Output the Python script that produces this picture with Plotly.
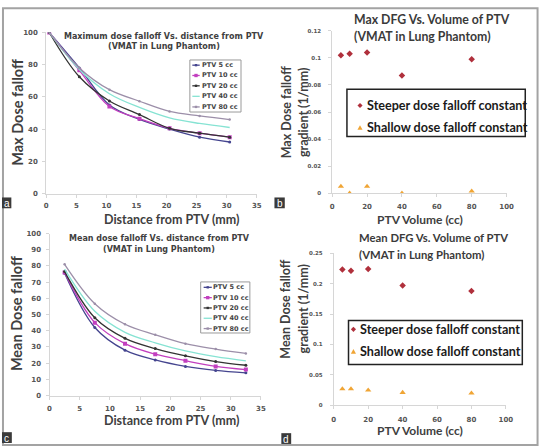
import plotly.graph_objects as go

W, H = 548, 446

# ---------------- data ----------------
ptv_names = ["PTV 5 cc", "PTV 10 cc", "PTV 20 cc", "PTV 40 cc", "PTV 80 cc"]

dist_max = [0.5, 5.5, 10.5, 15.5, 20.5, 25.5, 30.5]
max_ptv5 = [100, 78, 55, 46, 40, 35, 32]
max_ptv10 = [100, 76.5, 54, 46.5, 40.5, 37.5, 35]
max_ptv20 = [100, 72.5, 57.5, 49, 40.5, 37.5, 35]
max_ptv40 = [100, 77, 62, 53.5, 47, 43.5, 41]
max_ptv80 = [100, 78, 64.5, 57.3, 51, 48.2, 45.9]

dist_mean = [2.5, 7.5, 12.5, 17.5, 22.5, 27.5, 32.5]
mean_ptv5 = [75.5, 42, 28, 22, 18, 15.5, 14]
mean_ptv10 = [76, 45, 32, 25.5, 21.5, 18, 16]
mean_ptv20 = [76.5, 48, 35.3, 29, 24.5, 21, 18.7]
mean_ptv40 = [78, 52, 39, 32.5, 27.5, 24, 21.4]
mean_ptv80 = [81, 56.7, 44, 37.5, 32, 28.7, 26]

ptv_volume = [5, 10, 20, 40, 80]
max_steeper = [0.102, 0.103, 0.104, 0.087, 0.099]
max_shallow = [0.005, 0.0, 0.005, 0.0, 0.0015]
mean_steeper = [0.223, 0.221, 0.224, 0.197, 0.188]
mean_shallow = [0.027, 0.027, 0.025, 0.021, 0.020]

dfg_names = ["Steeper dose falloff constant", "Shallow dose falloff constant"]

ticks_dist = [0, 5, 10, 15, 20, 25, 30, 35]
ticks_max = [0, 20, 40, 60, 80, 100]
ticks_mean = [0, 10, 20, 30, 40, 50, 60, 70, 80, 90, 100]
ticks_vol = [0, 20, 40, 60, 80, 100]
ticks_bmax = [0, 0.02, 0.04, 0.06, 0.08, 0.1, 0.12]
ticklab_bmax = ["0", "0.02", "0.04", "0.06", "0.08", "0.1", "0.12"]
ticks_dmean = [0, 0.05, 0.1, 0.15, 0.2, 0.25]
ticklab_dmean = ["0", "0.05", "0.1", "0.15", "0.2", "0.25"]

# ---------------- styles ----------------
line_colors = ["#45458f", "#c23fbf", "#333333", "#86e3d3", "#9c8fa9"]
line_symbols = ["circle", "square", "circle", "circle", "circle"]
line_msizes = [3, 4, 3, 0.1, 2.5]
dfg_colors = ["#b0303c", "#f0a535"]
dfg_symbols = ["diamond", "triangle-up"]


def px(x):
    return x / W


def py(y):
    return 1 - y / H


fig = go.Figure()

max_sets = [max_ptv5, max_ptv10, max_ptv20, max_ptv40, max_ptv80]
mean_sets = [mean_ptv5, mean_ptv10, mean_ptv20, mean_ptv40, mean_ptv80]

for i, name in enumerate(ptv_names):
    fig.add_trace(go.Scatter(
        x=dist_max, y=max_sets[i], name=name, mode="lines+markers",
        line=dict(color=line_colors[i], width=1.3, shape="spline"),
        marker=dict(color=line_colors[i], size=line_msizes[i], symbol=line_symbols[i]),
        xaxis="x", yaxis="y", showlegend=False))
for i, name in enumerate(ptv_names):
    fig.add_trace(go.Scatter(
        x=dist_mean, y=mean_sets[i], name=name, mode="lines+markers",
        line=dict(color=line_colors[i], width=1.3, shape="spline"),
        marker=dict(color=line_colors[i], size=line_msizes[i], symbol=line_symbols[i]),
        xaxis="x3", yaxis="y3", showlegend=False))

for ys, ax in [((max_steeper, max_shallow), ("x2", "y2")), ((mean_steeper, mean_shallow), ("x4", "y4"))]:
    for j in range(2):
        fig.add_trace(go.Scatter(
            x=ptv_volume, y=ys[j], name=dfg_names[j], mode="markers",
            marker=dict(color=dfg_colors[j], size=5 if j == 0 else 5.5, symbol=dfg_symbols[j]),
            xaxis=ax[0], yaxis=ax[1], showlegend=False))

tickfont_ac = dict(family="DejaVu Sans", size=7, color="#555555", weight="bold")
tickfont_bd_y = dict(family="DejaVu Sans", size=5.5, color="#555555", weight="bold")
tickfont_bd_x = dict(family="DejaVu Sans", size=7, color="#555555", weight="bold")


def axis(dom, rng, tickvals, ticktext=None, font=None, anchor=None, standoff=3):
    d = dict(domain=dom, range=rng, tickvals=tickvals, showgrid=False, zeroline=False,
             showline=True, linecolor="#d6d6d6", linewidth=1, ticks="outside", ticklen=3,
             tickcolor="#d6d6d6", tickfont=font, anchor=anchor, fixedrange=True,
             ticklabelstandoff=standoff)
    if ticktext is not None:
        d["ticktext"] = ticktext
    return d


fig.update_layout(
    xaxis=axis([px(45), px(259)], [0, 35], ticks_dist, font=tickfont_ac, anchor="y", standoff=2),
    yaxis=axis([py(193), py(29)], [0, 100], ticks_max, font=tickfont_ac, anchor="x", standoff=3),
    xaxis2=axis([px(335.7), px(513)], [0, 100], ticks_vol, font=tickfont_bd_x, anchor="y2", standoff=3),
    yaxis2=axis([py(192.7), py(27.3)], [0, 0.12], ticks_bmax, ticklab_bmax, font=tickfont_bd_y, anchor="x2", standoff=6),
    xaxis3=axis([px(48.3), px(263.3)], [0, 35], ticks_dist, font=tickfont_ac, anchor="y3", standoff=3),
    yaxis3=axis([py(398.7), py(233.7)], [0, 100], ticks_mean, font=tickfont_ac, anchor="x3", standoff=3),
    xaxis4=axis([px(337.3), px(512.3)], [0, 100], ticks_vol, font=tickfont_bd_x, anchor="y4", standoff=4),
    yaxis4=axis([py(408.7), py(253.7)], [0, 0.25], ticks_dmean, ticklab_dmean, font=tickfont_bd_y, anchor="x4", standoff=6),
)

ann = []
shapes = []


def text(x, y, s, size, family="Lato", weight="normal", color="#333333", xanchor="center",
         yanchor="middle", angle=0, align="center"):
    ann.append(dict(x=px(x), y=py(y), xref="paper", yref="paper", text=s, showarrow=False,
                    xanchor=xanchor, yanchor=yanchor, textangle=angle, align=align, borderpad=0,
                    font=dict(family=family, size=size, color=color, weight=weight)))


# titles panel a / c
text(165, 33, "Maximum dose falloff Vs. distance from PTV", 8, family="DejaVu Sans", weight="bold", color="#404040")
text(165, 43.5, "(VMAT in Lung Phantom)", 8, family="DejaVu Sans", weight="bold", color="#404040")
text(160, 238.7, "Mean dose falloff Vs. distance from PTV", 8, family="DejaVu Sans", weight="bold", color="#404040")
text(160, 249.5, "(VMAT in Lung Phantom)", 8, family="DejaVu Sans", weight="bold", color="#404040")
# titles panel b / d
text(357, 16, "Max DFG Vs. Volume of PTV", 12.3, weight="bold", color="#3a3a3a", xanchor="left")
text(357, 33, "(VMAT in Lung Phantom)", 12.3, weight="bold", color="#3a3a3a", xanchor="left")
text(361.5, 238, "Mean DFG Vs. Volume of PTV", 11.3, weight="bold", color="#3a3a3a", xanchor="left")
text(361.5, 255, "(VMAT in Lung Phantom)", 11.3, weight="bold", color="#3a3a3a", xanchor="left")

# axis titles
text(15, 110, "Max Dose falloff", 14.5, weight="bold", color="#404040", angle=-90)
text(172.5, 219, "Distance from PTV (mm)", 12.5, weight="bold", color="#404040")
text(15, 315, "Mean Dose falloff", 14.5, weight="bold", color="#404040", angle=-90)
text(172, 424.5, "Distance from PTV (mm)", 12.5, weight="bold", color="#404040")
text(289, 110, "Max Dose falloff", 12.5, weight="bold", color="#404040", angle=-90)
text(306, 110, "gradient (1/mm)", 12.5, weight="bold", color="#404040", angle=-90)
text(424.5, 219, "PTV Volume (cc)", 12, weight="bold", color="#404040")
text(288, 310, "Mean Dose falloff", 12.5, weight="bold", color="#404040", angle=-90)
text(306, 310, "gradient (1/mm)", 12.5, weight="bold", color="#404040", angle=-90)
text(425, 434, "PTV Volume (cc)", 12, weight="bold", color="#404040")


# legends for line panels
def line_legend(box, ys, x0, x1, tx):
    shapes.append(dict(type="rect", xref="paper", yref="paper", x0=px(box[0]), x1=px(box[1]),
                       y0=py(box[3]), y1=py(box[2]), line=dict(color="#9a9a9a", width=1), fillcolor="white"))
    for i, name in enumerate(ptv_names):
        shapes.append(dict(type="line", xref="paper", yref="paper", x0=px(x0), x1=px(x1),
                           y0=py(ys[i]), y1=py(ys[i]), line=dict(color=line_colors[i], width=1.3)))
        if line_msizes[i] > 1:
            r = 1.2 if i != 1 else 1.7
            xm = (x0 + x1) / 2
            shapes.append(dict(type="rect", xref="paper", yref="paper", x0=px(xm - r), x1=px(xm + r),
                               y0=py(ys[i] + r), y1=py(ys[i] - r), line=dict(width=0),
                               fillcolor=line_colors[i]))
        text(tx, ys[i], name, 6.5, family="DejaVu Sans", weight="bold", color="#444444", xanchor="left")


line_legend((191, 243, 57, 110), [62.3, 72.8, 83.3, 94, 104.8], 193.5, 201, 202)
line_legend((202, 252, 283, 335), [288.5, 299, 309.5, 320, 330.5], 205, 213.3, 214)


def glyph_path(kind, cx, cy, r):
    if kind == "diamond":
        pts = [(cx, cy - r), (cx + r, cy), (cx, cy + r), (cx - r, cy)]
    else:
        pts = [(cx, cy - r), (cx + r, cy + r * 0.8), (cx - r, cy + r * 0.8)]
    return "M " + " L ".join(f"{px(a):.5f},{py(b):.5f}" for a, b in pts) + " Z"


# legend boxes for scatter panels
dfg_boxes = [(350.7, 532, 86.7, 135), (352.3, 529, 322.3, 367)]
dfg_rows = [[103.3, 126], [331.3, 354]]
dfg_mx = [364, 357.3]
dfg_tx = [370, 363]
for k in range(2):
    b = dfg_boxes[k]
    shapes.append(dict(type="rect", xref="paper", yref="paper", x0=px(b[0]), x1=px(b[1]),
                       y0=py(b[3]), y1=py(b[2]), line=dict(color="#222222", width=1.5),
                       fillcolor="white"))
    for j, name in enumerate(dfg_names):
        text(dfg_tx[k], dfg_rows[k][j], name, 12.6, weight="bold", color="#1a1a1a", xanchor="left")
        shapes.append(dict(type="path", xref="paper", yref="paper",
                           path=glyph_path(dfg_symbols[j], dfg_mx[k], dfg_rows[k][j], 2.6),
                           fillcolor=dfg_colors[j], line=dict(width=0)))

# panel letter tags
for lab, (x0, x1, y0, y1) in zip(["a", "b", "c", "d"],
                                 [(0, 9.5, 197, 208), (277, 287.5, 197, 208),
                                  (0, 10, 436, 447), (284, 294, 437, 448)]):
    shapes.append(dict(type="rect", xref="paper", yref="paper", x0=px(x0), x1=px(x1),
                       y0=py(y1), y1=py(y0), line=dict(width=0), fillcolor="#3a3a3a"))
    text((x0 + x1) / 2, (y0 + y1) / 2 + 0.5, lab, 10, family="Liberation Sans", color="white")

# outer frame
shapes.append(dict(type="rect", xref="paper", yref="paper", x0=px(1), x1=px(544.5), y0=py(449),
                   y1=py(4.3), line=dict(color="#a3a3a3", width=2), layer="below"))

fig.update_layout(width=W, height=H, margin=dict(l=0, r=0, t=0, b=0), autosize=False,
                  paper_bgcolor="white", plot_bgcolor="rgba(0,0,0,0)",
                  annotations=ann, shapes=shapes, showlegend=False)

fig.write_html("out.html")
